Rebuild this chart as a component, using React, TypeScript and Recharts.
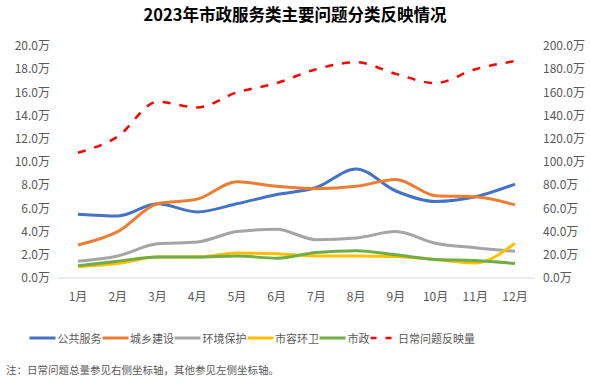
import { LineChart, Line, XAxis, YAxis } from 'recharts';

const months = ['1月', '2月', '3月', '4月', '5月', '6月', '7月', '8月', '9月', '10月', '11月', '12月'];

const publicService = [5.5, 5.35, 6.4, 5.7, 6.4, 7.2, 7.8, 9.4, 7.5, 6.6, 7.0, 8.1];
const urbanRural = [2.85, 4.0, 6.4, 6.8, 8.3, 7.9, 7.7, 7.9, 8.5, 7.1, 7.0, 6.3];
const environment = [1.45, 1.9, 2.95, 3.1, 4.0, 4.2, 3.3, 3.45, 4.0, 3.0, 2.6, 2.3];
const sanitation = [1.0, 1.25, 1.8, 1.8, 2.15, 2.1, 1.9, 1.9, 1.85, 1.6, 1.3, 3.0];
const municipal = [1.05, 1.45, 1.8, 1.8, 1.9, 1.7, 2.2, 2.35, 2.0, 1.6, 1.5, 1.25];
const dailyTotal = [108, 122, 152, 147, 160, 168, 180, 186, 176, 168, 180, 187];

const leftTicks = [0, 2, 4, 6, 8, 10, 12, 14, 16, 18, 20];
const rightTicks = [0, 20, 40, 60, 80, 100, 120, 140, 160, 180, 200];

const series = [
    { key: 'publicService', name: '公共服务', color: '#4472c4', axis: 'left', dashed: false },
    { key: 'urbanRural', name: '城乡建设', color: '#ed7d31', axis: 'left', dashed: false },
    { key: 'environment', name: '环境保护', color: '#a5a5a5', axis: 'left', dashed: false },
    { key: 'sanitation', name: '市容环卫', color: '#ffc000', axis: 'left', dashed: false },
    { key: 'municipal', name: '市政', color: '#70ad47', axis: 'left', dashed: false },
    { key: 'dailyTotal', name: '日常问题反映量', color: '#ff0000', axis: 'right', dashed: true },
];

const data = months.map((m, i) => ({
    month: m,
    publicService: publicService[i],
    urbanRural: urbanRural[i],
    environment: environment[i],
    sanitation: sanitation[i],
    municipal: municipal[i],
    dailyTotal: dailyTotal[i],
}));

const font = '"Noto Sans CJK SC", "Noto Sans", sans-serif';

function ChartLegend() {
    return (
        <div style={{ display: 'flex', alignItems: 'center', fontSize: 11, color: '#595959' }}>
            {series.map((s) => (
                <div key={s.key} style={{ display: 'flex', alignItems: 'center' }}>
                    <svg width={27} height={10}>
                        <line
                            x1={0.5}
                            y1={5}
                            x2={26.5}
                            y2={5}
                            stroke={s.color}
                            strokeWidth={s.dashed ? 2.5 : 3}
                            strokeDasharray={s.dashed ? '6 9' : undefined}
                        />
                    </svg>
                    <span style={{ marginLeft: 1.5 }}>{s.name}</span>
                </div>
            ))}
        </div>
    );
}

export default function App() {
    return (
        <div style={{ position: 'absolute', left: 0, top: 0, width: 590, height: 389, background: '#fff', fontFamily: font }}>
            <div style={{ position: 'absolute', top: 2, left: 0, width: 590, textAlign: 'center', fontSize: 16.5, fontWeight: 'bold', color: '#000' }}>
                2023年市政服务类主要问题分类反映情况
            </div>
            <div style={{ position: 'absolute', top: 30, left: 0 }}>
                <LineChart width={590} height={290} data={data} margin={{ top: 16, right: 0, bottom: 0, left: 0 }}>
                    <XAxis
                        dataKey="month"
                        axisLine={{ stroke: '#d9d9d9' }}
                        tickLine={false}
                        tick={{ fill: '#595959', fontSize: 12 }}
                        tickMargin={8}
                        interval={0}
                        padding={{ left: 20, right: 20 }}
                        height={42}
                    />
                    <YAxis
                        yAxisId="left"
                        domain={[0, 20]}
                        ticks={leftTicks}
                        interval={0}
                        axisLine={false}
                        tickLine={false}
                        width={58}
                        tick={{ fill: '#595959', fontSize: 12 }}
                        tickFormatter={(v: number) => `${v.toFixed(1)}万`}
                    />
                    <YAxis
                        yAxisId="right"
                        orientation="right"
                        domain={[0, 200]}
                        ticks={rightTicks}
                        interval={0}
                        axisLine={false}
                        tickLine={false}
                        width={55}
                        tick={{ fill: '#595959', fontSize: 12 }}
                        tickFormatter={(v: number) => `${v.toFixed(1)}万`}
                    />
                    {series.map((s) => (
                        <Line
                            key={s.key}
                            yAxisId={s.axis}
                            type="monotone"
                            dataKey={s.key}
                            name={s.name}
                            stroke={s.color}
                            strokeWidth={s.dashed ? 2.5 : 3}
                            strokeDasharray={s.dashed ? '8 9' : undefined}
                            dot={false}
                            isAnimationActive={false}
                        />
                    ))}
                </LineChart>
            </div>
            <div style={{ position: 'absolute', top: 330, left: 29 }}>
                <ChartLegend />
            </div>
            <div style={{ position: 'absolute', top: 362, left: 6, fontSize: 10.5, color: '#595959' }}>
                注：日常问题总量参见右侧坐标轴，其他参见左侧坐标轴。
            </div>
        </div>
    );
}
